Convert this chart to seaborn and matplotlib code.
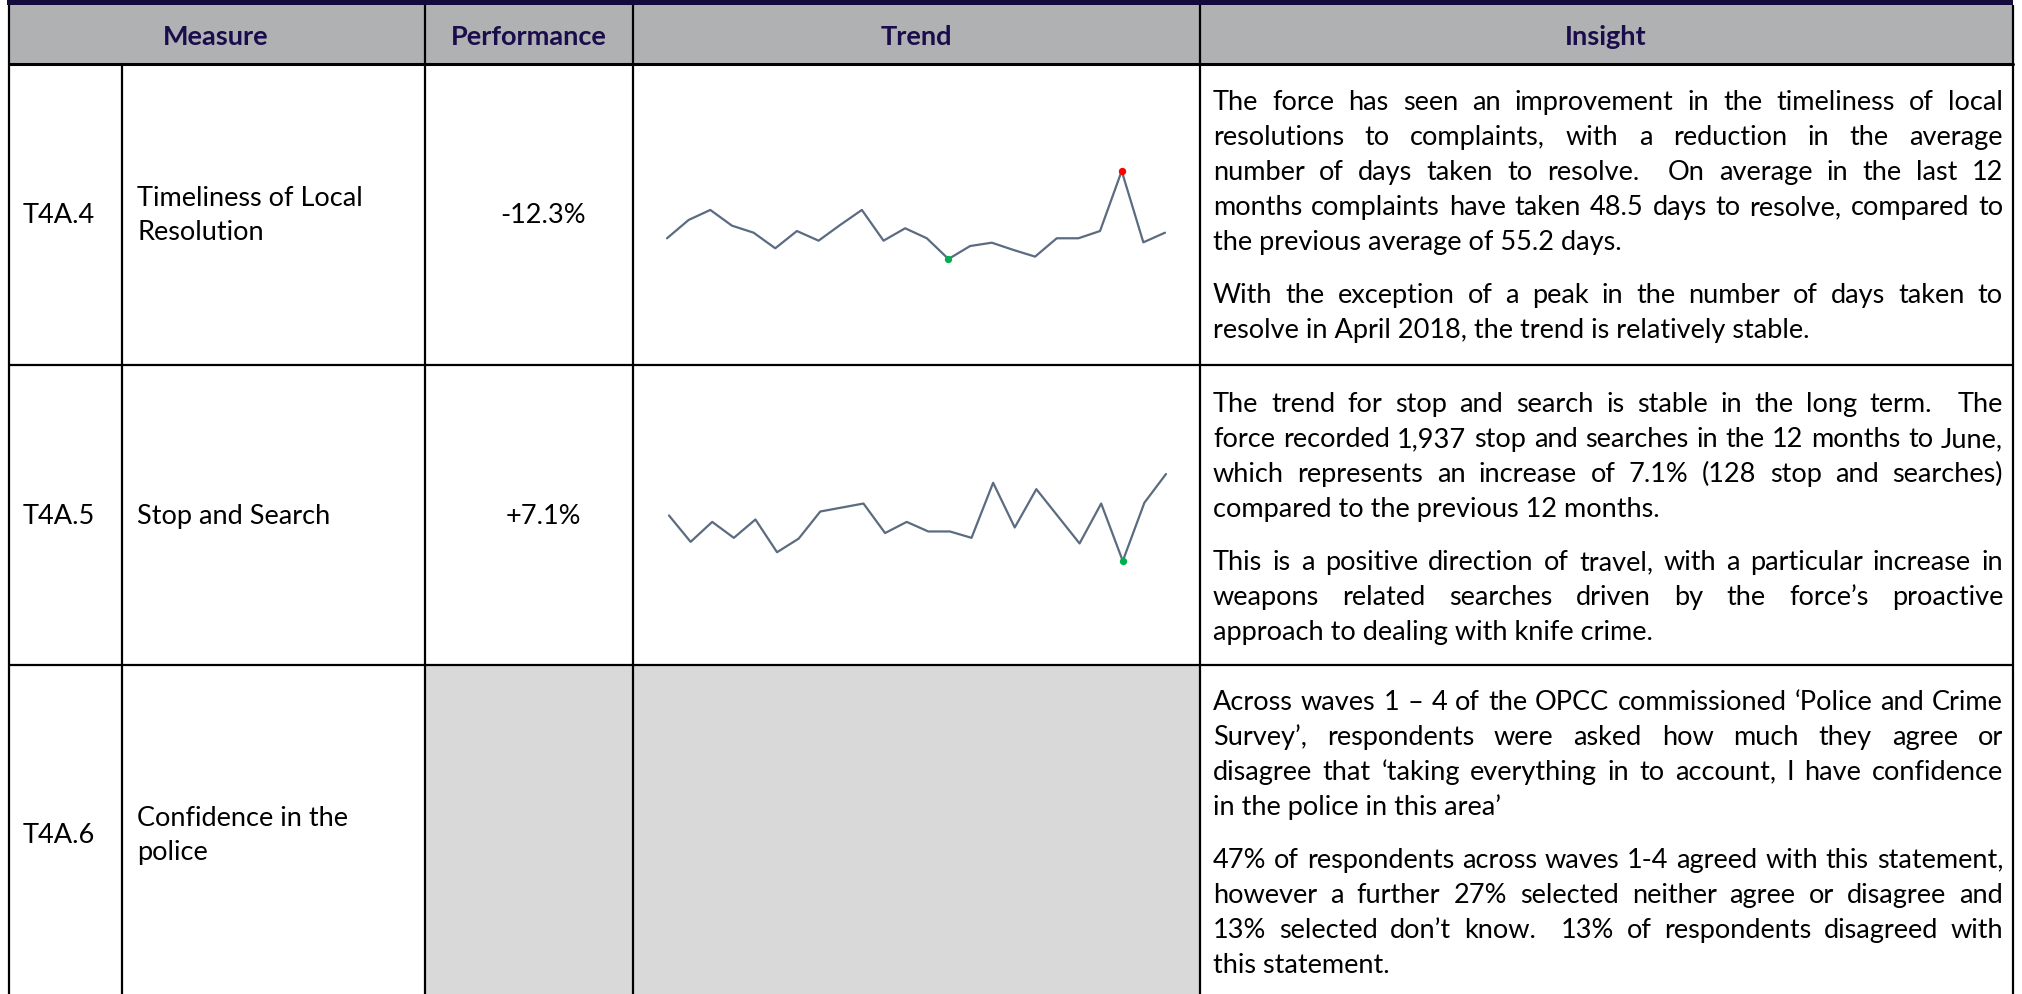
import matplotlib
matplotlib.use('Agg')
import matplotlib.pyplot as plt
import seaborn as sns
import pandas as pd
from matplotlib.patches import Rectangle

# datos (estimados)
months = ['Jul-16', 'Aug-16', 'Sep-16', 'Oct-16', 'Nov-16', 'Dec-16', 'Jan-17', 'Feb-17',
          'Mar-17', 'Apr-17', 'May-17', 'Jun-17', 'Jul-17', 'Aug-17', 'Sep-17', 'Oct-17',
          'Nov-17', 'Dec-17', 'Jan-18', 'Feb-18', 'Mar-18', 'Apr-18', 'May-18', 'Jun-18']
days_to_resolve = [47.6, 63.0, 71.4, 58.2, 52.3, 39.2, 53.7, 45.6, 58.8, 71.4, 45.6, 56.0,
                   47.6, 30.2, 41.1, 43.9, 37.8, 32.2, 47.6, 47.6, 53.7, 104.1, 44.2, 52.3]
stop_searches = [163, 130, 155, 135, 158, 117, 134, 168, 173, 178, 141, 155,
                 143, 143, 135, 204, 148, 196, 162, 128, 178, 106, 179, 215]

headers = ['Measure', 'Performance', 'Trend', 'Insight']
codes = ['T4A.4', 'T4A.5', 'T4A.6']
measures = [['Timeliness of Local', 'Resolution'], ['Stop and Search'], ['Confidence in the', 'police']]
performance = ['-12.3%', '+7.1%', '']

insight_1 = [["The force has seen an improvement in the timeliness of local",
              "resolutions to complaints, with a reduction in the average",
              "number of days taken to resolve.  On average in the last 12",
              "months complaints have taken 48.5 days to resolve, compared to",
              "the previous average of 55.2 days."],
             ["With the exception of a peak in the number of days taken to",
              "resolve in April 2018, the trend is relatively stable."]]
insight_2 = [["The trend for stop and search is stable in the long term.  The",
              "force recorded 1,937 stop and searches in the 12 months to June,",
              "which represents an increase of 7.1% (128 stop and searches)",
              "compared to the previous 12 months."],
             ["This is a positive direction of travel, with a particular increase in",
              "weapons related searches driven by the force\u2019s proactive",
              "approach to dealing with knife crime."]]
insight_3 = [["Across waves 1 \u2013 4 of the OPCC commissioned \u2018Police and Crime",
              "Survey\u2019, respondents were asked how much they agree or",
              "disagree that \u2018taking everything in to account, I have confidence",
              "in the police in this area\u2019"],
             ["47% of respondents across waves 1-4 agreed with this statement,",
              "however a further 27% selected neither agree or disagree and",
              "13% selected don\u2019t know.  13% of respondents disagreed with",
              "this statement."]]

sns.set_theme(style='white')
plt.rcParams['font.family'] = ['Lato', 'DejaVu Sans']

W, H = 2022, 995
fig = plt.figure(figsize=(W / 100, H / 100), dpi=100)
ax = fig.add_axes([0, 0, 1, 1])
ax.set_xlim(0, W)
ax.set_ylim(H, 0)
ax.axis('off')

# geometria de la tabla (pixeles)
col_x = [9, 122, 425, 633, 1200, 2013]
row_y = [65, 366, 666, 1010]
navy = '#150a3c'
lw = 1.6

ax.add_patch(Rectangle((7, 0), 2006, 6, color=navy, lw=0))
ax.add_patch(Rectangle((9, 6), 2004, 59, color='#b0b1b3', lw=0))
ax.add_patch(Rectangle((425, 666), 775, 340, color='#d9d9d9', lw=0))

for x in [9, 425, 633, 1200, 2013]:
    ax.plot([x, x], [6, H], color='black', lw=lw, solid_capstyle='butt')
ax.plot([122, 122], [65, H], color='black', lw=lw)
for y in row_y[:3]:
    ax.plot([9, 2013], [y, y], color='black', lw=2.2 if y == 65 else lw)

renderer = fig.canvas.get_renderer()
probe = ax.text(0, 0, 'the previous average of 55.2 days.', fontsize=20)
body_size = 20 * 409 / probe.get_window_extent(renderer).width
probe.remove()

# encabezados
header_x = [216, 529, 916, 1606]
for h, x in zip(headers, header_x):
    ax.text(x, 37, h, ha='center', va='center', fontsize=body_size, fontweight='bold', color='#1b0c4b')

row_c = [216, 517, 836]
for i in range(3):
    ax.text(23, row_c[i] + 7, codes[i], ha='left', va='baseline', fontsize=body_size, color='black')
    n = len(measures[i])
    for j, line in enumerate(measures[i]):
        yy = row_c[i] + (j - (n - 1) / 2) * 34
        ax.text(137, yy + 7, line, ha='left', va='baseline', fontsize=body_size, color='black')
    if performance[i]:
        ax.text(543, row_c[i] + 7, performance[i], ha='center', va='baseline', fontsize=body_size, color='black')

# texto justificado
x_left, x_right = 1213, 2003


def put_line(line, y, justify):
    if not justify:
        ax.text(x_left, y, line, ha='left', va='baseline', fontsize=body_size, color='black')
        return
    words = line.split(' ')
    texts, widths = [], []
    for w in words:
        if w:
            t = ax.text(0, y, w, ha='left', va='baseline', fontsize=body_size, color='black')
            texts.append(t)
            widths.append(t.get_window_extent(renderer).width)
        else:
            texts.append(None)
            widths.append(0)
    gap = (x_right - x_left - sum(widths)) / (len(words) - 1)
    x = x_left
    for t, w in zip(texts, widths):
        if t is not None:
            t.set_x(x)
        x += w + gap


for paras, y0 in zip([insight_1, insight_2, insight_3], [103, 405, 703]):
    y = y0
    for para in paras:
        for k, line in enumerate(para):
            put_line(line, y + 7, k < len(para) - 1)
            y += 35
        y += 18

# sparklines
spark_color = '#5b6b80'
series = [days_to_resolve, stop_searches]
boxes = [(667, 172, 1165, 260), (669, 475, 1166, 562)]
show_high = [True, False]
for vals, (x0, y0, x1, y1), high in zip(series, boxes, show_high):
    df = pd.DataFrame({'month': range(len(months)), 'value': vals, 'label': months})
    sax = fig.add_axes([x0 / W, 1 - y1 / H, (x1 - x0) / W, (y1 - y0) / H])
    sns.lineplot(data=df, x='month', y='value', ax=sax, color=spark_color, lw=1.6)
    low = df[df.value == df.value.min()]
    sns.scatterplot(data=low, x='month', y='value', ax=sax, color='#00b050', s=28, linewidth=0, zorder=3)
    if high:
        top = df[df.value == df.value.max()]
        sns.scatterplot(data=top, x='month', y='value', ax=sax, color='#ff0000', s=28, linewidth=0, zorder=3)
    sax.set_xlim(0, len(months) - 1)
    sax.set_ylim(min(vals), max(vals))
    for art in sax.lines + sax.collections:
        art.set_clip_on(False)
    sax.axis('off')
    sax.patch.set_alpha(0)

fig.savefig('out.png', dpi=100)
